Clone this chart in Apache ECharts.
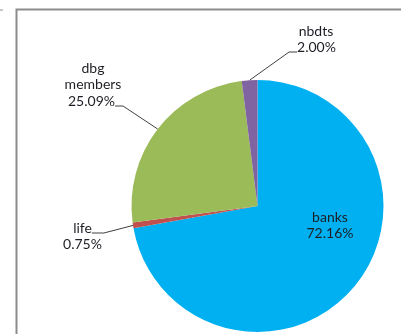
<!DOCTYPE html>
<html>
<head>
<meta charset="utf-8">
<script src="https://cdn.jsdelivr.net/npm/echarts@6/dist/echarts.min.js"></script>
<style>
  html, body { margin: 0; padding: 0; background: #fff; }
  #chart { width: 401px; height: 334px; }
</style>
</head>
<body>
<div id="chart"></div>
<script>
// Share of holdings by holder type, drawn clockwise from 12 o'clock
const categories = ['banks', 'life', 'dbg members', 'nbdts'];
const shares = [72.16, 0.75, 25.09, 2.00];
const sliceColors = ['#00B0F0', '#C0504D', '#9BBB59', '#8064A2'];

// Which text the leader line attaches to ('name' or 'pct'); banks sits inside its slice
const attachedPart = ['both', 'name', 'pct', 'pct'];
const nameText = ['banks', 'life', 'dbg\nmembers', 'nbdts'];

// Text block positions: the leader-attached part (y = leader height) and the free part
const attachedSpots = [
  { x: 330, y: 225.5 },
  { x: 82.5, y: 233 },
  { x: 91.5, y: 106 },
  { x: 316.5, y: 52 }
];
const freeSpots = [
  null,
  { x: 82.5, y: 244.5 },
  { x: 93, y: 76 },
  { x: 316, y: 31.5 }
];

const FONT = 'Lato';
const FONT_SIZE = 14;
const TEXT_COLOR = '#1e1e26';
const PIE_CENTER = [257.5, 206];
const PIE_RADIUS = 126;

const pct = v => v.toFixed(2) + '%';
const textStyle = {
  fontFamily: FONT,
  fontSize: FONT_SIZE,
  lineHeight: 16,
  color: TEXT_COLOR,
  align: 'center'
};

const chart = echarts.init(document.getElementById('chart'), null, { renderer: 'canvas' });

const sliceData = categories.map((name, i) => ({
  name,
  value: shares[i],
  itemStyle: { color: sliceColors[i] },
  labelLine: { show: i !== 0, length2: i === 1 ? 12 : 8 }
}));

const ghostData = categories.map((name, i) => ({
  name,
  value: shares[i],
  label: { show: freeSpots[i] !== null }
}));

chart.setOption({
  animation: false,
  backgroundColor: '#ffffff',
  graphic: [
    {
      type: 'rect',
      shape: { x: 16.5, y: 9.5, width: 420, height: 360 },
      style: { fill: 'none', stroke: '#8c8c8c', lineWidth: 2 },
      silent: true
    },
    {
      type: 'line',
      shape: { x1: 0, y1: 10, x2: 3, y2: 10 },
      style: { stroke: '#8c8c8c', lineWidth: 1 },
      silent: true
    }
  ],
  series: [
    {
      // slices, plus the label part each leader line points to
      type: 'pie',
      center: PIE_CENTER,
      radius: PIE_RADIUS,
      startAngle: 90,
      clockwise: true,
      avoidLabelOverlap: false,
      data: sliceData,
      label: Object.assign({
        show: true,
        position: 'outside',
        formatter: p => {
          const i = p.dataIndex;
          if (attachedPart[i] === 'both') return nameText[i] + '\n' + pct(p.value);
          const txt = attachedPart[i] === 'name' ? nameText[i] : pct(p.value);
          // a short spacer line below drops the leader to the text baseline
          return '{t|' + txt + '}\n{s| }';
        },
        rich: {
          t: { fontFamily: FONT, fontSize: FONT_SIZE, lineHeight: 16, color: TEXT_COLOR },
          s: { fontSize: 1, lineHeight: 9 }
        }
      }, textStyle),
      labelLine: {
        show: true,
        length: 20,
        length2: 8,
        lineStyle: { color: '#404040', width: 1 }
      },
      labelLayout: p => {
        const s = attachedSpots[p.dataIndex];
        return { x: s.x, y: s.y, align: 'center', verticalAlign: 'middle' };
      },
      emphasis: { disabled: true }
    },
    {
      // same slices, invisible, carrying the remaining label text
      type: 'pie',
      center: PIE_CENTER,
      radius: PIE_RADIUS,
      startAngle: 90,
      clockwise: true,
      silent: true,
      avoidLabelOverlap: false,
      z: 3,
      data: ghostData,
      itemStyle: { color: 'rgba(0,0,0,0)' },
      label: Object.assign({
        show: true,
        position: 'outside',
        formatter: p => {
          const i = p.dataIndex;
          return attachedPart[i] === 'name' ? pct(p.value) : nameText[i];
        }
      }, textStyle),
      labelLine: { show: false },
      labelLayout: p => {
        const s = freeSpots[p.dataIndex] || { x: 0, y: 0 };
        return { x: s.x, y: s.y, align: 'center', verticalAlign: 'middle' };
      },
      emphasis: { disabled: true }
    }
  ]
});
</script>
</body>
</html>
